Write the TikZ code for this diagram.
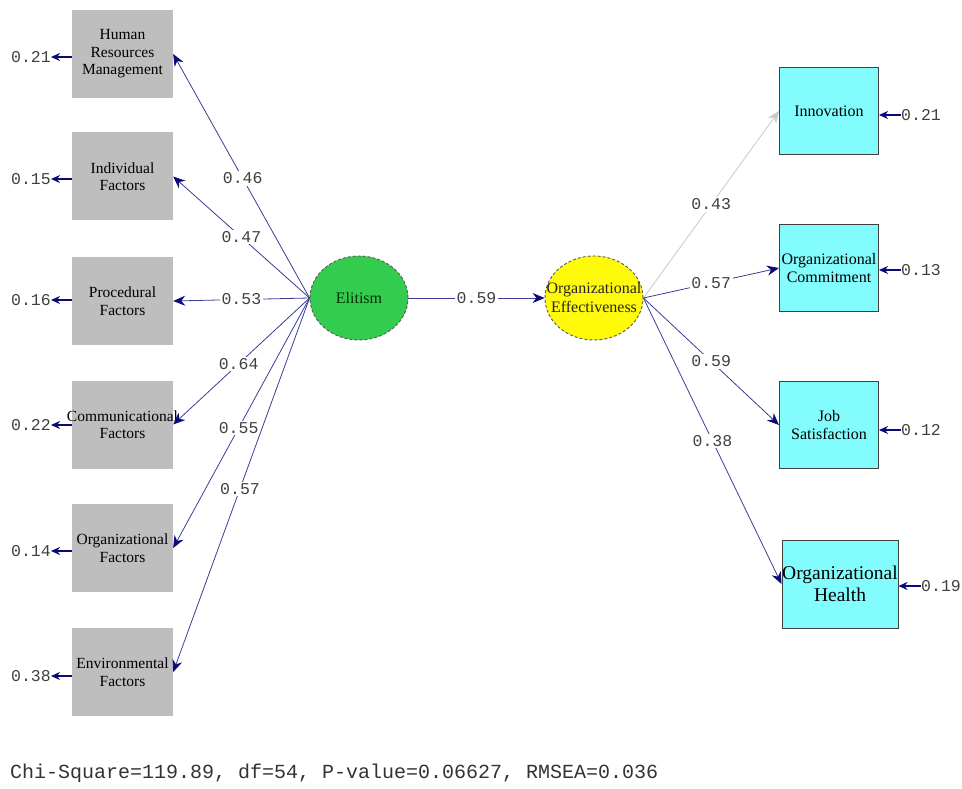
\documentclass[tikz,border=0pt]{standalone}
\usepackage{fontspec}
\usetikzlibrary{arrows.meta,shapes.geometric}
\newfontfamily\boxfont{Liberation Serif}
\newfontfamily\numfont{Liberation Mono}
\definecolor{boxgray}{RGB}{190,190,190}
\definecolor{boxcyan}{RGB}{130,252,252}
\definecolor{elgreen}{RGB}{52,204,78}
\definecolor{elyellow}{RGB}{255,250,10}
\definecolor{pathblue}{RGB}{60,60,150}
\definecolor{tipnavy}{RGB}{10,10,120}
\definecolor{lightpath}{RGB}{200,200,200}
\tikzset{
  obsleft/.style={rectangle, fill=boxgray, minimum width=101pt, minimum height=88pt, inner sep=0pt, align=center, font=\boxfont\fontsize{15.5}{17.5}\selectfont},
  obsright/.style={rectangle, fill=boxcyan, draw=black!75, line width=1pt, minimum width=99pt, minimum height=87pt, inner sep=0pt, align=center, font=\boxfont\fontsize{16}{18}\selectfont},
  latent/.style={ellipse, draw=black!65, densely dashed, line width=0.9pt, minimum width=98pt, minimum height=84pt, inner sep=0pt},
  lattext/.style={align=center, inner sep=0pt, font=\boxfont\fontsize{16}{19}\selectfont},
  path/.style={draw=pathblue, line width=0.8pt, -{Stealth[length=12pt,width=10pt,color=tipnavy]}},
  lpath/.style={draw=lightpath, line width=0.8pt, -{Stealth[length=12pt,width=10pt,color=lightpath]}},
  errarr/.style={draw=tipnavy, line width=1.4pt, -{Stealth[length=9pt,width=8pt,color=tipnavy]}},
  coef/.style={fill=white, inner sep=1.5pt, text=black!75, font=\numfont\fontsize{16.5}{16.5}\selectfont},
  errlab/.style={inner sep=0pt, text=black!75, font=\numfont\fontsize{16.5}{16.5}\selectfont},
}
\begin{document}
\begin{tikzpicture}[x=1pt,y=-1pt]
\useasboundingbox (0,0) rectangle (962,789);
% left observed boxes
\node[obsleft] (hrm) at (122.5,54) {Human\\Resources\\Management};
\node[obsleft] (ind) at (122.5,176.5) {Individual\\Factors};
\node[obsleft] (pro) at (122.5,301) {Procedural\\Factors};
\node[obsleft, inner xsep=-7pt] (com) at (122.5,424.5) {Communicational\\Factors};
\node[obsleft] (org) at (122.5,548) {Organizational\\Factors};
\node[obsleft] (env) at (122.5,672) {Environmental\\Factors};
% latent
\node[latent, fill=elgreen, label={[lattext, text=green!20!black]center:Elitism}] (eli) at (359,298) {};
\node[latent, fill=elyellow, label={[lattext, text=black!85]center:{Organizational\\Effectiveness}}] (oe) at (594,298) {};
% right observed boxes
\node[obsright] (inn) at (829,111) {Innovation};
\node[obsright] (oc) at (829,268) {Organizational\\Commitment};
\node[obsright] (js) at (829,425) {Job\\Satisfaction};
\node[obsright, minimum width=116pt, minimum height=88pt, font=\boxfont\fontsize{19.5}{22}\selectfont] (oh) at (840,584) {Organizational\\Health};
% paths from Elitism
\draw[path] (eli.west) -- node[coef, pos=0.49] {0.46} (hrm.east);
\draw[path] (eli.west) -- node[coef, pos=0.5] {0.47} (ind.east);
\draw[path] (eli.west) -- node[coef, pos=0.5] {0.53} (pro.east);
\draw[path] (eli.west) -- node[coef, pos=0.52] {0.64} (com.east);
\draw[path] (eli.west) -- node[coef, pos=0.52] {0.55} (org.east);
\draw[path] (eli.west) -- node[coef, pos=0.51] {0.57} (env.east);
\draw[path] (eli.east) -- node[coef, pos=0.5] {0.59} (oe.west);
% paths from OE
\draw[lpath] (oe.east) -- node[coef, pos=0.5] {0.43} (inn.west);
\draw[path] (oe.east) -- node[coef, pos=0.5] {0.57} (oc.west);
\draw[path] (oe.east) -- node[coef, pos=0.5] {0.59} (js.west);
\draw[path] (oe.east) -- node[coef, pos=0.5] {0.38} (oh.west);
% left error terms
\node[errlab] (e1) at (31,57) {0.21};
\node[errlab] (e2) at (31,179) {0.15};
\node[errlab] (e3) at (31,300) {0.16};
\node[errlab] (e4) at (31,425) {0.22};
\node[errlab] (e5) at (31,551) {0.14};
\node[errlab] (e6) at (31,676) {0.38};
\draw[errarr] (hrm.west |- e1) -- (e1.east);
\draw[errarr] (ind.west |- e2) -- (e2.east);
\draw[errarr] (pro.west |- e3) -- (e3.east);
\draw[errarr] (com.west |- e4) -- (e4.east);
\draw[errarr] (org.west |- e5) -- (e5.east);
\draw[errarr] (env.west |- e6) -- (e6.east);
% right error terms
\node[errlab] (r1) at (921,115) {0.21};
\node[errlab] (r2) at (921,270) {0.13};
\node[errlab] (r3) at (921,430) {0.12};
\node[errlab] (r4) at (941,586) {0.19};
\draw[errarr] (r1.west) -- (inn.east |- r1);
\draw[errarr] (r2.west) -- (oc.east |- r2);
\draw[errarr] (r3.west) -- (js.east |- r3);
\draw[errarr] (r4.west) -- (oh.east |- r4);
% fit statistics
\node[anchor=west, inner sep=0pt, text=black!80, font=\numfont\fontsize{20}{20}\selectfont] (fit) at (10,773) {Chi-Square=119.89, df=54, P-value=0.06627, RMSEA=0.036};
\end{tikzpicture}
\end{document}
